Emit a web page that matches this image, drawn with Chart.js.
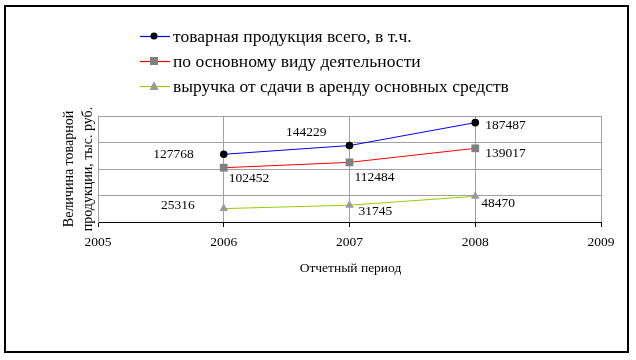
<!DOCTYPE html>
<html>
<head>
<meta charset="utf-8">
<script src="https://cdn.jsdelivr.net/npm/chart.js@4.4.0/dist/chart.umd.min.js"></script>
<style>
  html, body { margin: 0; padding: 0; background: #fff; }
  #wrap { width: 636px; height: 360px; }
</style>
</head>
<body>
<div id="wrap"><canvas id="myChartProd" width="636" height="360"></canvas></div>
<script>
var years = [2006, 2007, 2008];
var totalProd = [127768, 144229, 187487];
var mainActivity = [102452, 112484, 139017];
var rentIncome = [25316, 31745, 48470];
var seriesNames = ['товарная продукция всего, в т.ч.', 'по основному виду деятельности', 'выручка от сдачи в аренду основных средств'];
var xTitle = 'Отчетный период';
var yTitle = ['Величина товарной', 'продукции, тыс. руб.'];

// where each value label sits relative to its point (px)
var labelOffsets = [
    [[-30, 0, 'right'], [-23, -13, 'right'], [10, 3, 'left']],
    [[5, 11, 'left'], [5, 15, 'left'], [10, 5, 'left']],
    [[-29, -3, 'right'], [9, 6, 'left'], [6, 7, 'left']]
];

var serif = '"Liberation Serif", "Times New Roman", serif';

var extras = {
    id: 'extras',
    afterDraw: function (chart) {
        var c = chart.ctx;
        c.save();
        // outer frame
        c.strokeStyle = '#000';
        c.lineWidth = 2;
        c.strokeRect(5, 6, 623, 346);

        // value labels
        c.fillStyle = '#000';
        c.font = '13.5px ' + serif;
        c.textBaseline = 'middle';
        chart.data.datasets.forEach(function (ds, di) {
            var meta = chart.getDatasetMeta(di);
            meta.data.forEach(function (pt, i) {
                var o = labelOffsets[di][i];
                c.textAlign = o[2];
                c.fillText(String(ds.data[i].y), pt.x + o[0], pt.y + o[1]);
            });
        });

        // legend
        c.font = '17.5px ' + serif;
        c.textAlign = 'left';
        chart.data.datasets.forEach(function (ds, di) {
            var y = 36 + di * 25;
            c.strokeStyle = ds.borderColor;
            c.lineWidth = 1.2;
            c.beginPath();
            c.moveTo(140, y + 0.5);
            c.lineTo(170, y + 0.5);
            c.stroke();
            c.fillStyle = ds.pointBackgroundColor;
            c.beginPath();
            if (ds.pointStyle === 'circle') {
                c.arc(154, y, 3.5, 0, Math.PI * 2);
            } else if (ds.pointStyle === 'rect') {
                c.rect(150, y - 4, 8, 8);
            } else {
                c.moveTo(154, y - 5);
                c.lineTo(158.5, y + 4);
                c.lineTo(149.5, y + 4);
                c.closePath();
            }
            c.fill();
            c.fillStyle = '#000';
            c.fillText(ds.label, 173, y + 1);
        });

        // axis titles
        c.font = '13.5px ' + serif;
        c.textAlign = 'center';
        c.fillText(xTitle, (chart.chartArea.left + chart.chartArea.right) / 2 + 1, 268);
        var cy = (chart.chartArea.top + chart.chartArea.bottom) / 2;
        c.translate(0, cy);
        c.rotate(-Math.PI / 2);
        c.font = '14px ' + serif;
        c.fillText(yTitle[0], 0, 69);
        c.fillText(yTitle[1], 0, 88);
        c.restore();
    }
};

function pts(vals) {
    return vals.map(function (v, i) { return { x: years[i], y: v }; });
}

var ctx = document.getElementById('myChartProd').getContext('2d');
var myChartProd = new Chart(ctx, {
    type: 'line',
    data: {
        datasets: [{
            label: seriesNames[0],
            data: pts(totalProd),
            borderColor: '#0000ff',
            borderWidth: 1,
            pointStyle: 'circle',
            pointRadius: 3.8,
            pointBackgroundColor: '#000',
            pointBorderColor: '#000',
            pointBorderWidth: 0
        }, {
            label: seriesNames[1],
            data: pts(mainActivity),
            borderColor: '#ff0000',
            borderWidth: 1,
            pointStyle: 'rect',
            pointRadius: 5.5,
            pointBackgroundColor: '#808080',
            pointBorderColor: '#808080',
            pointBorderWidth: 0
        }, {
            label: seriesNames[2],
            data: pts(rentIncome),
            borderColor: '#99cc00',
            borderWidth: 1,
            pointStyle: 'triangle',
            pointRadius: 5,
            pointBackgroundColor: '#999999',
            pointBorderColor: '#999999',
            pointBorderWidth: 0
        }]
    },
    options: {
        responsive: false,
        animation: false,
        layout: { padding: { top: 116, right: 35, left: 0, bottom: 0 } },
        plugins: { legend: { display: false }, tooltip: { enabled: false } },
        scales: {
            x: {
                type: 'linear',
                min: 2005,
                max: 2009,
                afterFit: function (s) { s.height = 138; },
                ticks: {
                    stepSize: 1,
                    padding: 7,
                    color: '#000',
                    font: { family: serif, size: 13.5 },
                    callback: function (v) { return String(v); }
                },
                grid: { color: '#a0a0a0', tickColor: '#000', tickLength: 5 },
                border: { color: '#000', width: 1 }
            },
            y: {
                min: 0,
                max: 200000,
                afterFit: function (s) { s.width = 98; },
                ticks: { stepSize: 50000, display: false },
                grid: { color: '#a0a0a0', drawTicks: false },
                border: { color: '#a0a0a0', width: 1 }
            }
        }
    },
    plugins: [extras]
});
</script>
</body>
</html>
